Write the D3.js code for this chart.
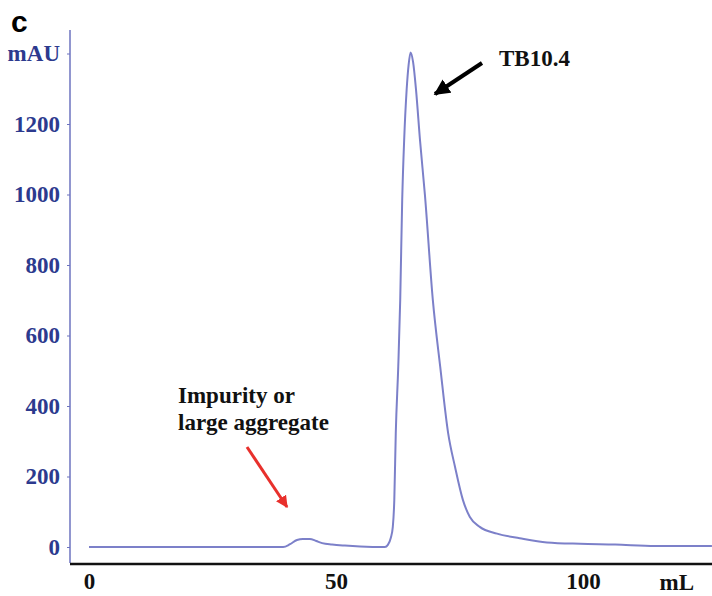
<!DOCTYPE html>
<html>
<head>
<meta charset="utf-8">
<script src="https://cdn.jsdelivr.net/npm/d3@7"></script>
<style>
  html, body { margin: 0; padding: 0; background: #ffffff; }
  svg { display: block; }
</style>
</head>
<body>
<svg id="chart" width="712" height="596"></svg>
<script>
// ---- data ----
const volumeML = [0, 39.3, 40.7, 42.1, 43.3, 44.7, 46.0, 47.2, 49.2, 51.8, 54.9, 59.9, 60.5, 61.1, 61.5, 61.8, 62.1, 62.6, 63.0, 63.4, 63.8, 64.3, 64.7, 65.1, 65.6, 66.2, 67.0, 68.0, 69.6, 71.1, 72.7, 74.1, 75.7, 77.1, 79.1, 82.6, 87.2, 92.7, 99.4, 106.5, 114.6, 126.1];
const absorbanceMAU = [0, 0, 8, 20, 23, 23, 17, 11, 7, 4, 1.5, 0, 6, 26, 57, 133, 323, 511, 701, 984, 1155, 1297, 1368, 1403, 1376, 1297, 1155, 999, 701, 511, 323, 227, 133, 85, 57, 38, 25, 13, 9, 7, 3, 3];
const yTickValues = [0, 200, 400, 600, 800, 1000, 1200, 1400];
const yTickLabels = ["0", "200", "400", "600", "800", "1000", "1200", "mAU"];
const xTickValues = [0, 50, 100];
const xTickLabels = ["0", "50", "100"];
const xUnitLabel = "mL";
const panelLabel = "c";
const peakLabel = "TB10.4";
const impurityLabel = ["Impurity or", "large aggregate"];

// ---- layout ----
const svg = d3.select("#chart");
const x = d3.scaleLinear().domain([0, 100]).range([89, 583]);
const y = d3.scaleLinear().domain([0, 1200]).range([547, 124]);
const serif = "'Liberation Serif', 'Times New Roman', serif";
const lineColor = "#7c80c9";
const axisBlue = "#6d73bf";
const labelBlue = "#2c3a8e";
const fs = 23;

// panel label
svg.append("text").attr("x", 11).attr("y", 32)
  .attr("font-family", "'Liberation Sans', Arial, sans-serif")
  .attr("font-weight", "bold").attr("font-size", 30).attr("fill", "#000")
  .text(panelLabel);

// y axis
const yAxis = d3.axisLeft(y).tickValues(yTickValues)
  .tickFormat((d, i) => yTickLabels[i]).tickSize(3).tickPadding(7);
const gy = svg.append("g").attr("transform", "translate(70,0)").call(yAxis);
gy.select(".domain").remove();
gy.selectAll(".tick line").attr("stroke", axisBlue).attr("stroke-width", 1);
gy.selectAll(".tick text").attr("font-family", serif).attr("font-weight", "bold")
  .attr("font-size", fs).attr("fill", labelBlue);
gy.append("line").attr("x1", 0).attr("x2", 0).attr("y1", 30).attr("y2", 563)
  .attr("stroke", axisBlue).attr("stroke-width", 1.5);

// x axis
const xAxis = d3.axisBottom(x).tickValues(xTickValues)
  .tickFormat((d, i) => xTickLabels[i]).tickSize(0).tickPadding(9);
const gx = svg.append("g").attr("transform", "translate(0,564)").call(xAxis);
gx.select(".domain").remove();
gx.selectAll(".tick text").attr("font-family", serif).attr("font-weight", "bold")
  .attr("font-size", fs).attr("fill", "#111");
gx.append("line").attr("x1", 70).attr("x2", 712).attr("y1", 0).attr("y2", 0)
  .attr("stroke", "#111").attr("stroke-width", 2.5);
svg.append("text").attr("x", x(119)).attr("y", 590).attr("text-anchor", "middle")
  .attr("font-family", serif).attr("font-weight", "bold").attr("font-size", fs)
  .attr("fill", "#111").text(xUnitLabel);

// trace
const pts = volumeML.map((v, i) => [v, absorbanceMAU[i]]);
const line = d3.line().x(d => x(d[0])).y(d => y(d[1])).curve(d3.curveMonotoneX);
svg.append("path").datum(pts).attr("d", line).attr("fill", "none")
  .attr("stroke", lineColor).attr("stroke-width", 2).attr("stroke-linejoin", "round");

// annotations
const defs = svg.append("defs");
function marker(id, color) {
  defs.append("marker").attr("id", id).attr("viewBox", "0 0 10 10")
    .attr("refX", 9).attr("refY", 5).attr("markerWidth", 4).attr("markerHeight", 4)
    .attr("orient", "auto").attr("markerUnits", "strokeWidth")
    .append("path").attr("d", "M0,0 L10,5 L0,10 z").attr("fill", color);
}
marker("arrBlack", "#000");
marker("arrRed", "#e8302c");

svg.append("line").attr("x1", 482).attr("y1", 63).attr("x2", 435).attr("y2", 94)
  .attr("stroke", "#000").attr("stroke-width", 4).attr("marker-end", "url(#arrBlack)");
svg.append("text").attr("x", 499).attr("y", 66)
  .attr("font-family", serif).attr("font-weight", "bold").attr("font-size", fs)
  .attr("fill", "#111").text(peakLabel);

svg.append("line").attr("x1", 247).attr("y1", 447).attr("x2", 287).attr("y2", 507)
  .attr("stroke", "#e8302c").attr("stroke-width", 3).attr("marker-end", "url(#arrRed)");
svg.append("text").attr("font-family", serif).attr("font-weight", "bold")
  .attr("font-size", fs).attr("fill", "#111")
  .selectAll("tspan").data(impurityLabel).join("tspan")
  .attr("x", 178).attr("y", (d, i) => 403 + i * 27).text(d => d);
</script>
</body>
</html>
